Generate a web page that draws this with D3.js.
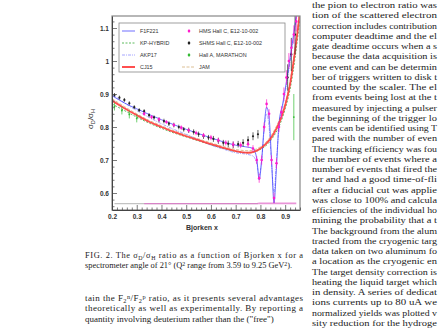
<!DOCTYPE html>
<html>
<head>
<meta charset="utf-8">
<script src="https://cdn.jsdelivr.net/npm/d3@7"></script>
<style>
  body { margin: 0; background: #fff; overflow: hidden; }
</style>
</head>
<body>
<script>
// model curves (x grid + ratio values)
var modelX = [0.2, 0.25, 0.3, 0.35, 0.4, 0.45, 0.5, 0.55, 0.6, 0.65, 0.7, 0.75, 0.8, 0.85, 0.88, 0.9, 0.92, 0.94, 0.96];
var cj15Y = [0.880, 0.857, 0.836, 0.816, 0.800, 0.785, 0.772, 0.760, 0.748, 0.737, 0.727, 0.722, 0.735, 0.775, 0.820, 0.865, 0.930, 1.030, 1.150];
var jamY = [0.886, 0.862, 0.840, 0.820, 0.804, 0.789, 0.776, 0.764, 0.752, 0.741, 0.732, 0.728, 0.740, 0.782, 0.828, 0.872, 0.940, 1.040, 1.160];
var kpHybridY = [0.870, 0.850, 0.830, 0.812, 0.796, 0.782, 0.770, 0.758, 0.746, 0.735, 0.726, 0.722, 0.732, 0.768, 0.810, 0.855, 0.915, 1.010, 1.130];

// resonance-region models
var resX = [0.2, 0.25, 0.3, 0.35, 0.4, 0.45, 0.5, 0.55, 0.6, 0.65, 0.7, 0.74, 0.77, 0.785, 0.795, 0.805, 0.815, 0.825, 0.835, 0.845, 0.855, 0.865, 0.875, 0.89, 0.91, 0.93, 0.95, 0.96];
var f1f221Y = [0.895, 0.873, 0.855, 0.838, 0.822, 0.807, 0.793, 0.780, 0.767, 0.755, 0.745, 0.740, 0.735, 0.705, 0.640, 0.700, 0.800, 0.860, 0.830, 0.700, 0.570, 0.680, 0.810, 0.870, 0.960, 1.060, 1.160, 1.200];
var akp17Y = [0.900, 0.873, 0.850, 0.829, 0.810, 0.793, 0.778, 0.761, 0.745, 0.733, 0.722, 0.718, 0.712, 0.690, 0.655, 0.700, 0.790, 0.840, 0.800, 0.690, 0.600, 0.700, 0.800, 0.860, 0.950, 1.050, 1.150, 1.190];

// data points
var shmsX = [0.21, 0.23, 0.25, 0.27, 0.29, 0.31, 0.33, 0.35, 0.37, 0.39, 0.41, 0.43, 0.45, 0.47, 0.49, 0.51, 0.53, 0.55, 0.57, 0.59, 0.61, 0.63, 0.65, 0.67, 0.69, 0.71, 0.73, 0.75, 0.77, 0.79, 0.91, 0.925, 0.94];
var shmsY = [0.897, 0.889, 0.882, 0.872, 0.860, 0.851, 0.848, 0.836, 0.829, 0.822, 0.818, 0.810, 0.806, 0.800, 0.793, 0.790, 0.785, 0.778, 0.772, 0.768, 0.764, 0.758, 0.752, 0.749, 0.746, 0.748, 0.752, 0.760, 0.772, 0.778, 0.950, 1.020, 1.080];
var shmsErr = [0.006, 0.006, 0.006, 0.006, 0.006, 0.006, 0.006, 0.006, 0.006, 0.007, 0.007, 0.007, 0.007, 0.007, 0.007, 0.008, 0.008, 0.008, 0.008, 0.008, 0.009, 0.009, 0.009, 0.010, 0.010, 0.010, 0.011, 0.012, 0.012, 0.013, 0.04, 0.05, 0.06];
var hmsX = [0.33, 0.36, 0.39, 0.42, 0.45, 0.48, 0.51, 0.54, 0.57, 0.60, 0.63, 0.66, 0.69, 0.72, 0.75, 0.77, 0.785, 0.795, 0.805, 0.815, 0.825, 0.835, 0.845, 0.855, 0.865, 0.875, 0.885, 0.895, 0.905, 0.915, 0.925, 0.935, 0.945];
var hmsY = [0.840, 0.830, 0.823, 0.815, 0.806, 0.798, 0.790, 0.782, 0.775, 0.768, 0.760, 0.752, 0.747, 0.745, 0.748, 0.735, 0.700, 0.645, 0.700, 0.800, 0.870, 0.840, 0.700, 0.585, 0.690, 0.800, 0.845, 0.900, 0.950, 1.000, 1.040, 1.080, 1.120];
var hmsErr = [0.006, 0.006, 0.006, 0.006, 0.006, 0.007, 0.007, 0.007, 0.007, 0.008, 0.008, 0.008, 0.009, 0.009, 0.010, 0.010, 0.012, 0.014, 0.014, 0.014, 0.014, 0.014, 0.014, 0.016, 0.016, 0.016, 0.018, 0.020, 0.022, 0.024, 0.026, 0.028, 0.030];
var marathonX = [0.21, 0.24, 0.27, 0.30, 0.935];
var marathonY = [0.862, 0.850, 0.838, 0.826, 0.830];
var marathonErr = [0.012, 0.012, 0.012, 0.012, 0.070];

// systematic bands at the bottom
var sysBase = 0.566;
var shmsSys = [0.004, 0.004, 0.004, 0.004, 0.004, 0.004, 0.004, 0.004, 0.004, 0.004, 0.004, 0.004, 0.004, 0.004, 0.004, 0.004, 0.004, 0.004, 0.004, 0.004, 0.004, 0.004, 0.004, 0.004, 0.004, 0.004, 0.004, 0.004, 0.004, 0.004];
var hmsSys = [0.004, 0.004, 0.004, 0.004, 0.004, 0.004, 0.004, 0.004, 0.004, 0.004, 0.004, 0.004, 0.004, 0.004, 0.004, 0.004, 0.004, 0.005, 0.005, 0.005, 0.005, 0.005, 0.005, 0.005, 0.005, 0.005, 0.005, 0.005, 0.005, 0.005, 0.005, 0.005, 0.005];

var xTicks = [0.2, 0.3, 0.4, 0.5, 0.6, 0.7, 0.8, 0.9];
var yTicks = [0.6, 0.7, 0.8, 0.9, 1, 1.1];

var legendLeft = ["F1F221", "KP-HYBRID", "AKP17", "CJ15"];
var legendRight = ["HMS Hall C, E12-10-002", "SHMS Hall C, E12-10-002", "Hall A, MARATHON", "JAM"];

var caption = [
    "FIG. 2.  The σ_{D}/σ_{H} ratio as a function of Bjorken x for a",
    "spectrometer angle of 21° (Q^{2} range from 3.59 to 9.25 GeV^{2})."
];
var bodyLeft = [
    "tain the F_{2}^{n}/F_{2}^{p} ratio, as it presents several advantages",
    "theoretically as well as experimentally. By reporting a",
    "quantity involving deuterium rather than the (\"free\")"
];
// right column, only the part that fits in the window
var bodyRight = [
    "the pion to electron ratio was",
    "tion of the scattered electron",
    "correction includes contribution",
    "computer deadtime and the el",
    "gate deadtime occurs when a s",
    "because the data acquisition is",
    "one event and can be determin",
    "ber of triggers written to disk t",
    "counted by the scaler. The el",
    "from events being lost at the t",
    "measured by injecting a pulser",
    "the beginning of the trigger lo",
    "events can be identified using T",
    "pared with the number of even",
    "The tracking efficiency was fou",
    "the number of events where a",
    "number of events that fired the",
    "ter and had a good time-of-fli",
    "after a fiducial cut was applie",
    "was close to 100% and calcula",
    "efficiencies of the individual ho",
    "mining the probability that a t",
    "The background from the alum",
    "tracted from the cryogenic targ",
    "data taken on two aluminum fo",
    "a location as the cryogenic en",
    "The target density correction is",
    "heating the liquid target which",
    "in density. A series of dedicat",
    "ions currents up to 80 uA we",
    "normalized yields was plotted v",
    "sity reduction for the hydroge"
];

var W = 439, H = 328;
var svg = d3.select("body").append("svg")
    .attr("width", W)
    .attr("height", H)
    .attr("font-family", "Liberation Serif, serif");

// plot frame in page pixels
var frame = { left: 112, right: 300, top: 16, bottom: 210 };

var x = d3.scaleLinear().domain([0.2, 0.96]).range([frame.left, frame.right]);
var y = d3.scaleLinear().domain([0.5485, 1.1364]).range([frame.bottom, frame.top]);

// writes a string with _{sub} and ^{sup} pieces into a text element
function richText(sel, str) {
    str.split(/(_\{[^}]*\}|\^\{[^}]*\})/).forEach(function (p) {
        if (!p) return;
        if (p[0] === "_") {
            sel.append("tspan").attr("font-size", "70%").attr("baseline-shift", "-25%").text(p.slice(2, -1));
        } else if (p[0] === "^") {
            sel.append("tspan").attr("font-size", "70%").attr("baseline-shift", "40%").text(p.slice(2, -1));
        } else {
            sel.append("tspan").text(p);
        }
    });
}

var plot = svg.append("g");

plot.append("clipPath").attr("id", "clip")
    .append("rect")
    .attr("x", frame.left).attr("y", frame.top)
    .attr("width", frame.right - frame.left)
    .attr("height", frame.bottom - frame.top);

var inner = plot.append("g").attr("clip-path", "url(#clip)");

// systematic error bands
function band(xs, hs, color) {
    var pts = xs.map(function (d, i) { return { x: d, h: hs[i] }; });
    inner.append("path")
        .datum(pts)
        .attr("fill", color)
        .attr("fill-opacity", 0.7)
        .attr("d", d3.area()
            .x(function (d) { return x(d.x); })
            .y0(y(sysBase))
            .y1(function (d) { return y(sysBase + d.h); }));
}
band(shmsX.slice(0, 30), shmsSys, "#aaaaaa");
band(hmsX, hmsSys, "#e066c8");

// model lines
function curve(xs, ys, color, width, dash, opacity) {
    var pts = xs.map(function (d, i) { return [d, ys[i]]; });
    inner.append("path")
        .datum(pts)
        .attr("fill", "none")
        .attr("stroke", color)
        .attr("stroke-width", width)
        .attr("stroke-opacity", opacity || 1)
        .attr("stroke-dasharray", dash)
        .attr("d", d3.line()
            .curve(d3.curveMonotoneX)
            .x(function (d) { return x(d[0]); })
            .y(function (d) { return y(d[1]); }));
}
curve(modelX, kpHybridY, "#33aa33", 0.8, "2,1.5");
curve(modelX, jamY, "#d8b888", 0.9, "3,1.5");
curve(resX, akp17Y, "#9090ff", 0.8, "3,1,1,1");
curve(resX, f1f221Y, "#3030ff", 0.7, null);
curve(modelX, cj15Y, "#ff3b3b", 1.8, null, 0.9);

// data points with error bars
function points(xs, ys, errs, color, r) {
    var pts = xs.map(function (d, i) { return { x: d, y: ys[i], e: errs[i] }; });
    var g = inner.append("g");
    g.selectAll("line")
        .data(pts)
        .enter().append("line")
        .attr("x1", function (d) { return x(d.x); })
        .attr("x2", function (d) { return x(d.x); })
        .attr("y1", function (d) { return y(d.y - d.e); })
        .attr("y2", function (d) { return y(d.y + d.e); })
        .attr("stroke", color)
        .attr("stroke-width", 0.7);
    g.selectAll("circle")
        .data(pts)
        .enter().append("circle")
        .attr("cx", function (d) { return x(d.x); })
        .attr("cy", function (d) { return y(d.y); })
        .attr("r", r)
        .attr("fill", color);
}
points(marathonX, marathonY, marathonErr, "#33bb33", 0.9);
points(shmsX, shmsY, shmsErr, "#222222", 1.1);
points(hmsX, hmsY, hmsErr, "#ff1ccc", 1.3);

// frame
plot.append("rect")
    .attr("x", frame.left).attr("y", frame.top)
    .attr("width", frame.right - frame.left)
    .attr("height", frame.bottom - frame.top)
    .attr("fill", "none")
    .attr("stroke", "#888")
    .attr("stroke-width", 1.2);

// axes, ticks pointing inward like ROOT
var xMinor = d3.range(0.2, 0.961, 0.02).filter(function (v) { return Math.abs(v * 10 - Math.round(v * 10)) > 1e-6; });
var yMinor = d3.range(0.56, 1.131, 0.02).filter(function (v) { return Math.abs(v * 10 - Math.round(v * 10)) > 1e-6; });

plot.append("g")
    .attr("transform", "translate(0," + frame.bottom + ")")
    .call(d3.axisBottom(x).tickValues(xMinor).tickSize(-2.5).tickFormat(""))
    .call(function (g) { g.select(".domain").remove(); });
var xAxis = plot.append("g")
    .attr("transform", "translate(0," + frame.bottom + ")")
    .call(d3.axisBottom(x).tickValues(xTicks).tickSizeInner(-5).tickSizeOuter(0).tickPadding(4).tickFormat(d3.format(".1f")));
xAxis.selectAll("text")
    .attr("font-family", "Liberation Sans, sans-serif")
    .attr("font-weight", "bold")
    .attr("font-size", 6.5)
    .attr("fill", "#333");

plot.append("g")
    .attr("transform", "translate(" + frame.left + ",0)")
    .call(d3.axisLeft(y).tickValues(yMinor).tickSize(-2.5).tickFormat(""))
    .call(function (g) { g.select(".domain").remove(); });
var yAxis = plot.append("g")
    .attr("transform", "translate(" + frame.left + ",0)")
    .call(d3.axisLeft(y).tickValues(yTicks).tickSizeInner(-5).tickSizeOuter(0).tickPadding(3).tickFormat(d3.format("~g")));
yAxis.selectAll("text")
    .attr("font-family", "Liberation Sans, sans-serif")
    .attr("font-weight", "bold")
    .attr("font-size", 6.5)
    .attr("fill", "#333");
plot.selectAll(".tick line").attr("stroke", "#444").attr("stroke-width", 0.7);
plot.selectAll(".domain").attr("stroke", "#444");

// axis titles
plot.append("text")
    .attr("x", 202)
    .attr("y", 230)
    .attr("text-anchor", "middle")
    .attr("font-family", "Liberation Sans, sans-serif")
    .attr("font-weight", "bold")
    .attr("font-size", 7)
    .attr("fill", "#333")
    .text("Bjorken x");

var yTitle = plot.append("text")
    .attr("transform", "translate(93,119) rotate(-90)")
    .attr("text-anchor", "middle")
    .attr("font-family", "Liberation Sans, sans-serif")
    .attr("font-size", 8)
    .attr("fill", "#333");
richText(yTitle, "σ_{D}/σ_{H}");

// legend
var leg = plot.append("g");
leg.append("rect")
    .attr("x", 119).attr("y", 23)
    .attr("width", 166).attr("height", 49)
    .attr("fill", "#fff")
    .attr("stroke", "#888")
    .attr("stroke-width", 0.8);

var legStyles = [
    { color: "#3030ff", width: 0.7, dash: null },
    { color: "#33aa33", width: 0.8, dash: "2,1.5" },
    { color: "#9090ff", width: 0.8, dash: "3,1,1,1" },
    { color: "#ff3b3b", width: 1.8, dash: null }
];
var legMarks = ["#ff1ccc", "#222222", "#33bb33", null];

legendLeft.forEach(function (d, i) {
    var ly = 31 + i * 12;
    leg.append("line")
        .attr("x1", 122).attr("x2", 135)
        .attr("y1", ly).attr("y2", ly)
        .attr("stroke", legStyles[i].color)
        .attr("stroke-width", legStyles[i].width)
        .attr("stroke-dasharray", legStyles[i].dash);
    leg.append("text")
        .attr("x", 140).attr("y", ly)
        .attr("dy", "0.35em")
        .attr("font-family", "Liberation Sans, sans-serif")
        .attr("font-size", 5.4)
        .attr("fill", "#333")
        .text(d);
});
legendRight.forEach(function (d, i) {
    var ly = 31 + i * 12;
    if (legMarks[i]) {
        leg.append("line")
            .attr("x1", 189).attr("x2", 189)
            .attr("y1", ly - 2).attr("y2", ly + 2)
            .attr("stroke", legMarks[i]).attr("stroke-width", 0.6);
        leg.append("circle")
            .attr("cx", 189).attr("cy", ly)
            .attr("r", 1.3)
            .attr("fill", legMarks[i]);
    } else {
        leg.append("line")
            .attr("x1", 182).attr("x2", 195)
            .attr("y1", ly).attr("y2", ly)
            .attr("stroke", "#d8b888")
            .attr("stroke-width", 0.9)
            .attr("stroke-dasharray", "3,1.5");
    }
    leg.append("text")
        .attr("x", 199).attr("y", ly)
        .attr("dy", "0.35em")
        .attr("font-family", "Liberation Sans, sans-serif")
        .attr("font-size", 5.4)
        .attr("fill", "#333")
        .text(d);
});

// page text around the figure
function textBlock(lines, x0, y0, step, size, width, adjust) {
    lines.forEach(function (l, i) {
        var t = svg.append("text")
            .attr("x", x0)
            .attr("y", y0 + i * step)
            .attr("font-size", size)
            .attr("fill", "#222");
        richText(t, l);
        if (width && (adjust || (i < lines.length - 1 && !/\.\)?$/.test(l)))) {
            t.attr("textLength", width).attr("lengthAdjust", adjust || "spacing");
        }
    });
}
textBlock(caption, 85, 258, 10.3, 8.4, 218);
textBlock(bodyLeft, 85, 301, 10.3, 9, 218);
textBlock(bodyRight, 312, 8, 10.25, 9, 125, "spacingAndGlyphs");
</script>
</body>
</html>
